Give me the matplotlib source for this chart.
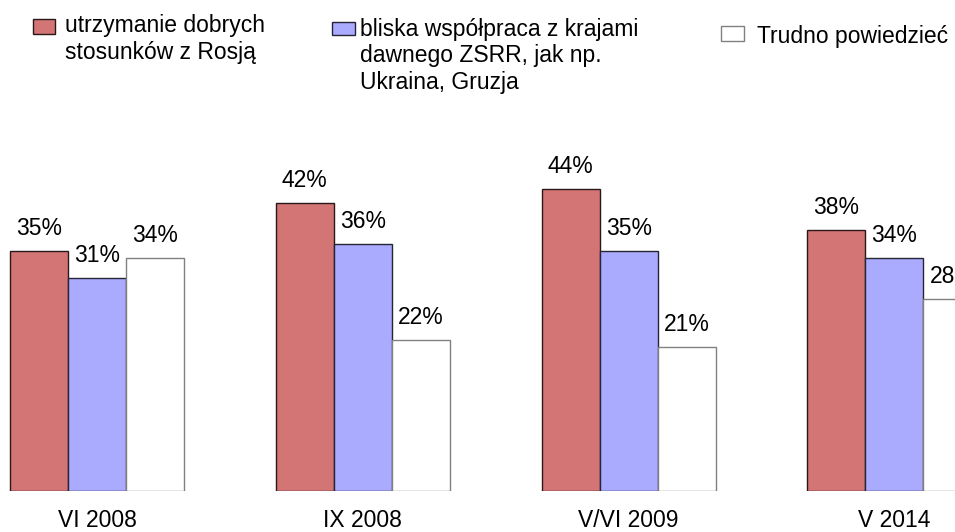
import matplotlib.pyplot as plt
import numpy as np

plt.rcParams['font.family'] = ['Liberation Sans', 'DejaVu Sans']

# data
periods = ["VI 2008", "IX 2008", "V/VI 2009", "V 2014"]
russia = [35, 42, 44, 38]
former_ussr = [31, 36, 35, 34]
hard_to_say = [34, 22, 21, 28]

series_names = [
    ["utrzymanie dobrych", "stosunków z Rosją"],
    ["bliska współpraca z krajami", "dawnego ZSRR, jak np.", "Ukraina, Gruzja"],
    ["Trudno powiedzieć"],
]
colors = ["#D47575", "#AAAAFF", "#FFFFFF"]
edges = ["#2a1818", "#252535", "#808080"]

W, H = 955, 532


def fx(px):
    return px / W


def fy(py):
    return 1 - py / H


fig = plt.figure(figsize=(9.55, 5.32), dpi=100)
ax = fig.add_axes([0, fy(491), 1, 343 / H])

x = np.arange(len(periods))
w = 58 / 265.8
for k, vals in enumerate([russia, former_ussr, hard_to_say]):
    bars = ax.bar(x + (k - 1) * w, vals, w, color=colors[k],
                  edgecolor=edges[k], linewidth=1)
    # last label is cut by the right edge, as in the original
    ax.bar_label(bars, labels=[f"{v}%" for v in vals], padding=8,
                 fontsize=16.5, clip_on=False)

ax.set_xlim(-97 / 265.8, (W - 97) / 265.8)
ax.set_ylim(0, 50)
for s in ax.spines.values():
    s.set_visible(False)
ax.set_yticks([])
ax.set_xticks(x)
ax.set_xticklabels(periods, fontsize=16.5)
ax.tick_params(axis='x', length=0, pad=13)

# hand-placed legend, like in the original
legend_boxes = [(33, 19, 22, 15), (332, 22, 23, 13), (721, 26, 23, 15)]
text_x = [65, 360, 757]
first_base = [32, 36, 43]
for k in range(3):
    bx, by, bw, bh = legend_boxes[k]
    fig.patches.append(plt.Rectangle((fx(bx), fy(by + bh)), bw / W, bh / H,
                                     transform=fig.transFigure,
                                     facecolor=colors[k], edgecolor=edges[k],
                                     linewidth=1))
    for i, line in enumerate(series_names[k]):
        fig.text(fx(text_x[k]), fy(first_base[k] + i * 26.5), line,
                 fontsize=16.5, va='baseline', ha='left')

fig.savefig("out.png", dpi=100)
